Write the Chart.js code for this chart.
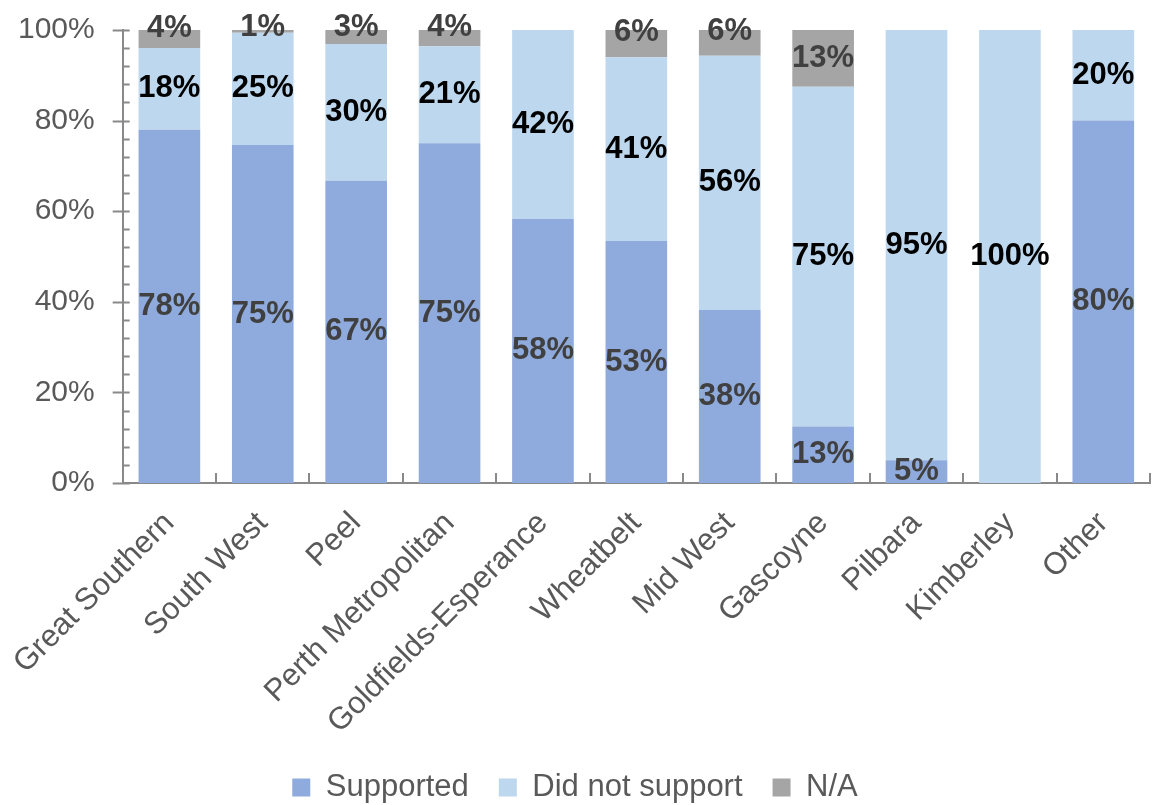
<!DOCTYPE html>
<html>
<head>
<meta charset="utf-8">
<script src="https://cdn.jsdelivr.net/npm/chart.js@4"></script>
<style>
  body { margin: 0; background: #fff; }
  #wrap { width: 1155px; height: 805px; }
</style>
</head>
<body>
<div id="wrap"><canvas id="regions"></canvas></div>
<script>
const regions = ['Great Southern', 'South West', 'Peel', 'Perth Metropolitan', 'Goldfields-Esperance',
    'Wheatbelt', 'Mid West', 'Gascoyne', 'Pilbara', 'Kimberley', 'Other'];
const supported = [78, 74.6, 66.7, 75, 58.3, 53.4, 38.2, 12.5, 5, 0, 80];
const notSupported = [18, 24.8, 30.2, 21.4, 41.7, 40.6, 56.1, 75, 95, 100, 20];
const notApplicable = [4, 0.6, 3.1, 3.6, 0, 6, 5.7, 12.5, 0, 0, 0];
const yTicks = [0, 20, 40, 60, 80, 100];

const FONT = '"Liberation Sans", Arial, sans-serif';
const AXIS = '#898989';

// percent labels drawn in the middle of each segment
const segmentLabels = {
    id: 'segmentLabels',
    afterDatasetsDraw(chart) {
        const ctx = chart.ctx;
        ctx.save();
        ctx.font = 'bold 31px ' + FONT;
        ctx.textAlign = 'center';
        ctx.textBaseline = 'middle';
        chart.data.datasets.forEach((ds, di) => {
            const meta = chart.getDatasetMeta(di);
            meta.data.forEach((bar, i) => {
                const v = ds.data[i];
                if (!v) return;
                let y = (bar.y + bar.base) / 2;
                if (di === 2 && Math.abs(bar.base - bar.y) < 40) {
                    y = Math.max(y - 11, chart.chartArea.top - 3);
                }
                ctx.fillStyle = ds.labelColor;
                ctx.fillText(Math.round(v) + '%', bar.x, y);
            });
        });
        ctx.restore();
    }
};

// tick marks: major y ticks cross the axis, minor ones inside, x ticks between bars
const tickMarks = {
    id: 'tickMarks',
    afterDraw(chart) {
        const ctx = chart.ctx;
        const x = chart.scales.x, y = chart.scales.y;
        ctx.save();
        ctx.strokeStyle = AXIS;
        ctx.lineWidth = 2;
        ctx.beginPath();
        for (let v = 0; v <= 100; v += 4) {
            const py = Math.round(y.getPixelForValue(v)) + 0.5;
            ctx.moveTo(y.right, py);
            ctx.lineTo(y.right + 7, py);
            if (v % 20 === 0) {
                ctx.moveTo(y.right - 10, py);
                ctx.lineTo(y.right, py);
            }
        }
        const n = regions.length;
        const step = (x.right - x.left) / n;
        for (let i = 1; i <= n; i++) {
            const px = Math.round(x.left + i * step);
            ctx.moveTo(px, x.top);
            ctx.lineTo(px, x.top - 10);
        }
        ctx.stroke();
        ctx.restore();
    }
};

new Chart(document.getElementById('regions'), {
    type: 'bar',
    data: {
        labels: regions,
        datasets: [{
            label: 'Supported',
            data: supported,
            backgroundColor: '#8FAADC',
            labelColor: '#404040'
        },
        {
            label: 'Did not support',
            data: notSupported,
            backgroundColor: '#BDD7EE',
            labelColor: '#000000'
        },
        {
            label: 'N/A',
            data: notApplicable,
            backgroundColor: '#A5A5A5',
            labelColor: '#404040'
        }]
    },
    options: {
        responsive: true,
        maintainAspectRatio: false,
        animation: false,
        barPercentage: 0.66,
        categoryPercentage: 1,
        layout: { padding: { top: 30, right: 5, left: 0, bottom: -8 } },
        plugins: {
            legend: {
                position: 'bottom',
                labels: {
                    boxWidth: 18,
                    boxHeight: 18,
                    padding: 30,
                    color: '#595959',
                    font: { family: FONT, size: 31 }
                }
            },
            tooltip: { enabled: false }
        },
        scales: {
            x: {
                stacked: true,
                grid: { display: false },
                border: { color: AXIS, width: 2 },
                ticks: {
                    color: '#595959',
                    font: { family: FONT, size: 31 },
                    maxRotation: 45,
                    minRotation: 45,
                    padding: 14
                },
                afterFit(s) { s.height = 259; }
            },
            y: {
                stacked: true,
                min: 0,
                max: 100,
                afterBuildTicks(s) { s.ticks = yTicks.map(v => ({ value: v })); },
                grid: { display: false },
                border: { color: AXIS, width: 2 },
                ticks: {
                    color: '#595959',
                    font: { family: FONT, size: 30 },
                    padding: 20,
                    callback: v => v + '%'
                },
                afterFit(s) {
                    s.width = 121;
                    s.paddingTop = 0;
                    s.paddingBottom = 0;
                }
            }
        }
    },
    plugins: [segmentLabels, tickMarks]
});
</script>
</body>
</html>
